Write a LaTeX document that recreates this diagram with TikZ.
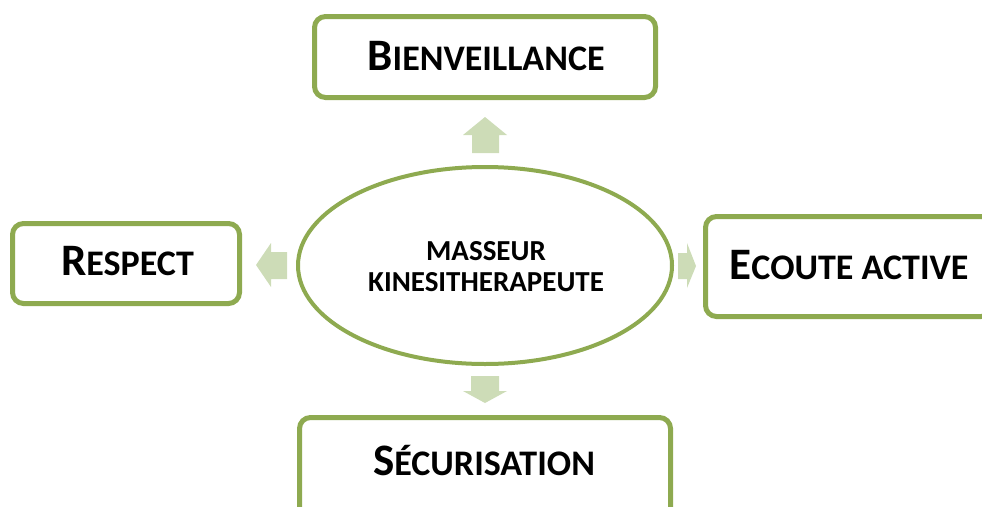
\documentclass[tikz,border=0pt]{standalone}
\usepackage{fontspec}
\setmainfont{Carlito}
\definecolor{olive}{HTML}{8EAA50}
\definecolor{arrowfill}{HTML}{CDDCB7}
\newcommand{\bigsc}[2]{{\fontsize{45}{48}\selectfont #1}{\fontsize{36}{40}\selectfont #2}}
\begin{document}
\begin{tikzpicture}[x=1pt,y=-1pt,
  box/.style={draw=olive,line width=5pt,rounded corners=11pt,fill=white},
  blockarrow/.style={fill=arrowfill,draw=none},
  lbl/.style={anchor=base,inner sep=0pt,font=\bfseries}]
\useasboundingbox (0,0) rectangle (982,506);
\clip (0,0) rectangle (982,506);
% boxes
\draw[box] (314.5,16.5) rectangle (655.5,97.5);
\draw[box] (12.5,223.5) rectangle (239.5,303.5);
\draw[box] (705.5,216.5) rectangle (992,316.5);
\draw[box] (299.5,417.5) rectangle (670.5,525);
% central ellipse
\draw[draw=olive,line width=4pt,fill=white] (485,265.5) ellipse [x radius=187, y radius=98.5];
\node (center) at (485,265.5) {};
% labels
\node[lbl] (bien) at (486,70) {\bigsc{B}{IENVEILLANCE}};
\node[lbl] (resp) at (127.5,275) {\bigsc{R}{ESPECT}};
\node[lbl] (ecou) at (849,279) {\bigsc{E}{COUTE ACTIVE}};
\node[lbl] (secu) at (484,475) {\bigsc{S}{ÉCURISATION}};
\node[lbl,font=\bfseries\fontsize{29}{31}\selectfont,align=center] (mk) at (486,291) {MASSEUR\\KINESITHERAPEUTE};
% block arrows
\fill[blockarrow] (485,117) -- (507,135) -- (499,135) -- (499,153) -- (472,153) -- (472,135) -- (463,135) -- cycle;
\fill[blockarrow] (485,403) -- (507,391) -- (499,391) -- (499,376) -- (471,376) -- (471,391) -- (463,391) -- cycle;
\fill[blockarrow] (256,265) -- (271,243) -- (271,252) -- (287,252) -- (287,279) -- (271,279) -- (271,287) -- cycle;
\fill[blockarrow] (696,266) -- (687,243) -- (687,253) -- (678,253) -- (678,279) -- (687,279) -- (687,288) -- cycle;
\end{tikzpicture}
\end{document}
